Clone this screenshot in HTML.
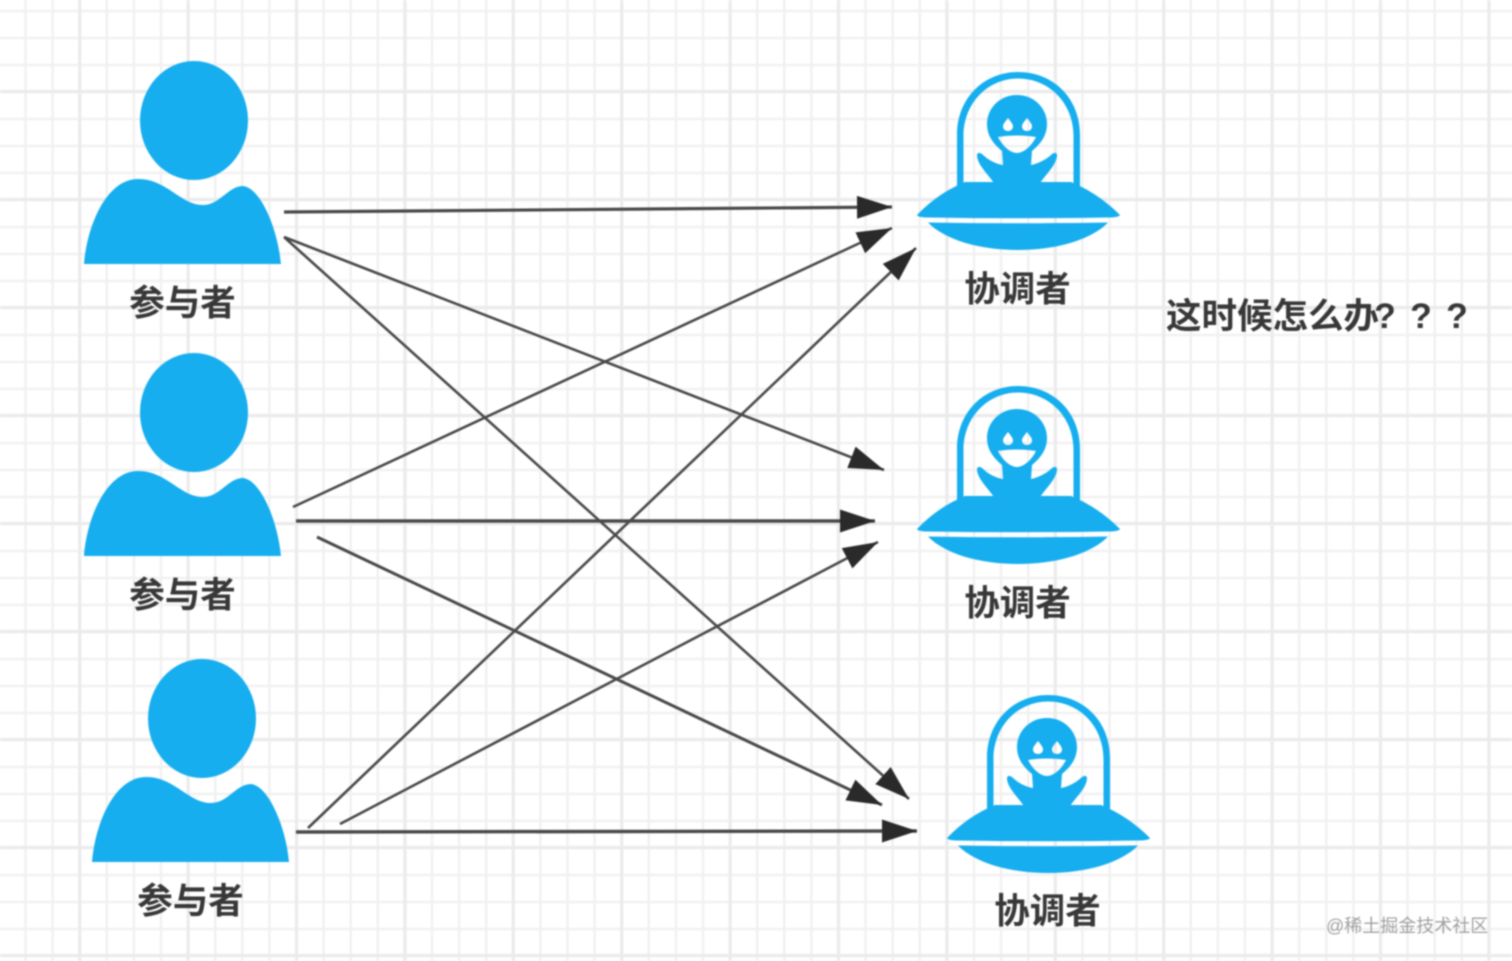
<!DOCTYPE html>
<html lang="zh"><head><meta charset="utf-8"><title>Diagram</title>
<style>
html,body{margin:0;padding:0;background:#fff;width:1512px;height:961px;overflow:hidden}
svg{display:block}
text{font-family:"Liberation Sans","Noto Sans CJK SC",sans-serif;font-weight:700;fill:#383838}
</style></head><body>
<svg width="1512" height="961" viewBox="0 0 1512 961" xmlns="http://www.w3.org/2000/svg">
<defs>
<filter id="b" x="-5%" y="-5%" width="110%" height="110%"><feGaussianBlur stdDeviation="0.9"/></filter>
<filter id="t" x="-5%" y="-20%" width="110%" height="140%"><feGaussianBlur stdDeviation="0.85"/></filter>
<pattern id="minor" x="11.95" y="-2.5" width="27.1" height="27" patternUnits="userSpaceOnUse"><path d="M13.55 0V27M0 13.5H27.1" fill="none" stroke="#f1f1f1" stroke-width="2.4"/></pattern>
<pattern id="major" x="25.5" y="37.5" width="108.4" height="108" patternUnits="userSpaceOnUse"><path d="M54.2 0V108M0 54H108.4" fill="none" stroke="#ebebeb" stroke-width="3.2"/></pattern>
<marker id="a" markerUnits="userSpaceOnUse" markerWidth="36" markerHeight="26" refX="35" refY="13" orient="auto"><path d="M0 1.5L35 13L0 24.5Z" fill="#2b2b2b"/></marker>
<g id="person" fill="#16aeef">
<ellipse cx="194" cy="120.5" rx="54" ry="59.5"/>
<path d="M84 264C87 226 106 180 137 179C166 178 180 205 203 205C220 205 228 186 243 186C261 188 278 230 281 264Z"/>
</g>
<g id="ufo" fill="#16aeef">
<path d="M957 186V135C957 98 984 72 1018 72C1053 72 1080 98 1080 135V186H1073.500V136C1073.500 103 1049 78.500 1018 78.500C988 78.500 963.500 103 963.500 136V186Z"/>
<path fill-rule="evenodd" d="M1017 95C1035 95 1047 109 1047 124C1047 137 1039 145 1032 151L1031 165C1037 164 1046 160 1052 154Q1057 151 1057 156C1056 165 1048 172 1040 183H994C986 172 978 165 977 156Q977 151 982 154C988 160 996 164 1003 165L1002 151C995 145 987 137 987 124C987 109 999 95 1017 95ZM1008 118C1005 122 1003 124 1003 126.500C1003 129 1005 131 1008 131C1011 131 1013 129 1013 126.500C1013 124 1011 122 1008 118ZM1027 118C1024 122 1022 124 1022 126.500C1022 129 1024 131 1027 131C1030 131 1032 129 1032 126.500C1032 124 1030 122 1027 118ZM998 137C1003 147 1011 153 1017 153C1023 153 1031 147 1036 137C1024 135 1010 135 998 137Z"/>
<path d="M917 215Q938 193 965 182H1071Q1098 193 1120 215Q1119 217.500 1108 217.500Q1018 219 928 217.500Q918 217.500 917 215Z"/>
<path d="M928 222.500Q1018 224 1108 222.500C1091 240 1056 250 1018 250C980 250 945 240 928 222.500Z"/>
</g>
</defs>
<rect width="1512" height="961" fill="#fff"/>
<g filter="url(#b)">
<rect width="1512" height="961" fill="url(#minor)"/>
<rect width="1512" height="961" fill="url(#major)"/>
</g>
<g filter="url(#b)">
<use href="#person"/>
<use href="#person" y="292"/>
<use href="#person" x="8" y="598"/>
<use href="#ufo"/>
<use href="#ufo" y="314"/>
<use href="#ufo" x="30" y="623"/>
<g stroke="#4a4a4a" stroke-width="2.6" fill="none">
<line x1="284" y1="212" x2="892" y2="207" stroke-width="3.2" marker-end="url(#a)"/>
<line x1="284" y1="237" x2="884" y2="470" marker-end="url(#a)"/>
<line x1="284" y1="237" x2="909" y2="799" marker-end="url(#a)"/>
<line x1="293" y1="507" x2="892" y2="228" marker-end="url(#a)"/>
<line x1="296" y1="521" x2="875" y2="521" stroke-width="3.4" marker-end="url(#a)"/>
<line x1="317" y1="537" x2="882" y2="805" stroke-width="3" marker-end="url(#a)"/>
<line x1="308" y1="828" x2="916" y2="248" marker-end="url(#a)"/>
<line x1="340" y1="824" x2="878" y2="542" marker-end="url(#a)"/>
<line x1="296" y1="832" x2="917" y2="831" stroke-width="3.4" marker-end="url(#a)"/>
</g>
</g>
<g filter="url(#t)" font-size="35.500" text-anchor="middle">
<text x="182.500" y="315">参与者</text>
<text x="182.500" y="607">参与者</text>
<text x="190.500" y="913">参与者</text>
<text x="1017.500" y="301">协调者</text>
<text x="1017.500" y="615">协调者</text>
<text x="1047.500" y="923">协调者</text>
<text x="1272.500" y="328">这时候怎么办</text>
<text x="1385" y="328">?</text>
<text x="1421" y="328">?</text>
<text x="1457" y="328">?</text>
</g>
<text x="1326" y="932" font-size="18" style="font-weight:400;fill:#a0a0a0" filter="url(#t)">@稀土掘金技术社区</text>
</svg>
</body></html>
